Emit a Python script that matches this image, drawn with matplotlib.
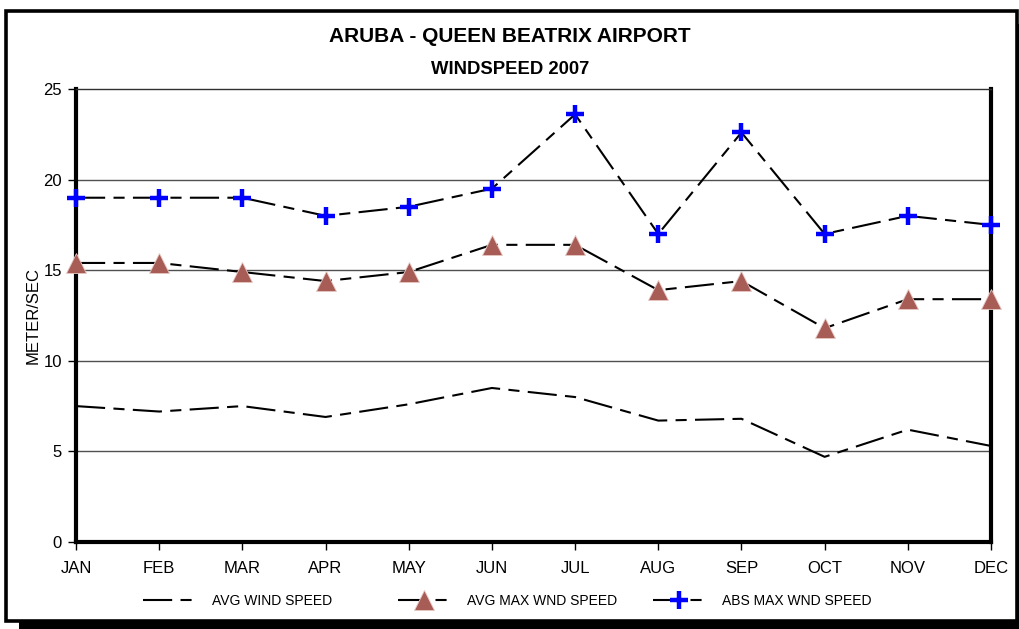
import matplotlib
matplotlib.use("Agg")
import matplotlib.pyplot as plt
from matplotlib.patches import Rectangle

plt.rcParams['font.family'] = ['Liberation Sans', 'DejaVu Sans']
plt.rcParams['lines.scale_dashes'] = False

months = ['JAN', 'FEB', 'MAR', 'APR', 'MAY', 'JUN', 'JUL', 'AUG', 'SEP', 'OCT', 'NOV', 'DEC']
avg_wind = [7.5, 7.2, 7.5, 6.9, 7.6, 8.5, 8.0, 6.7, 6.8, 4.7, 6.2, 5.3]
avg_max_wind = [15.4, 15.4, 14.9, 14.4, 14.9, 16.4, 16.4, 13.9, 14.4, 11.8, 13.4, 13.4]
abs_max_wind = [19.0, 19.0, 19.0, 18.0, 18.5, 19.5, 23.6, 17.0, 22.6, 17.0, 18.0, 17.5]

W, H = 1020, 629
fig = plt.figure(figsize=(W / 100, H / 100), dpi=100)

# shadow + frame (pixel coords converted to figure fraction)
def px(x0, y0, x1, y1):
    return (x0 / W, 1 - y1 / H), (x1 - x0) / W, (y1 - y0) / H

xy, w, h = px(19, 24, 1040, 650)
fig.patches.append(Rectangle(xy, w, h, transform=fig.transFigure, facecolor='black', edgecolor='none', zorder=0))
xy, w, h = px(6.5, 10.5, 1017.5, 620.5)
fig.patches.append(Rectangle(xy, w, h, transform=fig.transFigure, facecolor='white', edgecolor='black', lw=2.6, zorder=1))

ax = fig.add_axes([76 / W, 1 - 542 / H, (991 - 76) / W, (542 - 89) / H])
ax.set_zorder(2)
ax.patch.set_alpha(0)

x = list(range(len(months)))
dash = (0, (21, 6, 8, 6))

ax.plot(x, avg_wind, color='black', lw=1.5, ls=dash, label='AVG WIND SPEED', zorder=3)
ax.plot(x, avg_max_wind, color='black', lw=1.5, ls=dash, marker='^', markersize=14,
        markerfacecolor='#a85c56', markeredgecolor='#e8c8c4', markeredgewidth=0.6,
        label='AVG MAX WND SPEED', clip_on=False, zorder=4)
ax.plot(x, abs_max_wind, color='black', lw=1.5, ls=dash, marker='+', markersize=13,
        markeredgecolor='#0000ff', markeredgewidth=3.2,
        label='ABS MAX WND SPEED', clip_on=False, zorder=5)

ax.set_xlim(0, 11)
ax.set_ylim(0, 25)
ax.set_xticks(x)
ax.set_xticklabels(months)
ax.set_yticks([0, 5, 10, 15, 20, 25])
for v in [5, 10, 15, 20]:
    ax.axhline(v, color='#505050', lw=1, zorder=1)

for s in ['left', 'bottom', 'right']:
    ax.spines[s].set_linewidth(3)
    ax.spines[s].set_color('black')
ax.spines['top'].set_linewidth(1)
ax.spines['top'].set_color('#303030')
ax.tick_params(axis='both', direction='out', length=6, width=1, labelsize=12, pad=4)
ax.tick_params(axis='x', pad=8)
ax.set_ylabel('METER/SEC', fontsize=12)
ax.yaxis.set_label_coords(-0.039, 0.5)

fig.text(0.5, 1 - 37 / H, 'ARUBA - QUEEN BEATRIX AIRPORT', ha='center', va='center',
         fontsize=15, fontweight='bold', zorder=3)
fig.text(0.5, 1 - 69 / H, 'WINDSPEED 2007', ha='center', va='center',
         fontsize=13.3, fontweight='bold', zorder=3)

handles, labels = ax.get_legend_handles_labels()
for i, (hd, lb) in enumerate(zip(handles, labels)):
    lg = fig.legend([hd], [lb], loc='center left', bbox_to_anchor=((131 + 255 * i) / W, 1 - 601 / H),
                    frameon=False, fontsize=10, handlelength=3.7, handletextpad=1.2)
    lg.set_zorder(3)

fig.savefig('out.png', dpi=100)
